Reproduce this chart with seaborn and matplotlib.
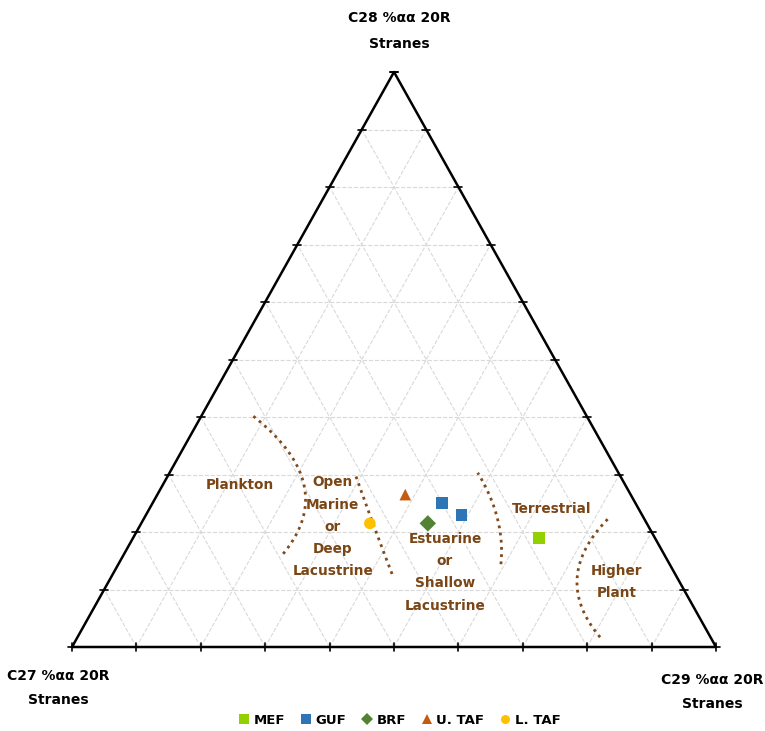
"""
Ternary diagram of C27-C28-C29 regular steranes with environment fields.
"""

import matplotlib.pyplot as plt
import numpy as np
import pandas as pd
import seaborn as sns

sns.set_theme(style="white")
plt.rcParams["font.family"] = ["Liberation Sans Narrow", "DejaVu Sans"]
plt.rcParams["font.weight"] = "bold"
plt.rcParams["text.color"] = "black"

# sample compositions in percent (C27, C28, C29)
groups = ["MEF", "GUF", "GUF", "BRF", "U. TAF", "L. TAF"]
c27 = [18, 30, 28, 34, 35, 43]
c28 = [19, 25, 23, 21.5, 26.5, 21.5]
c29 = [63, 45, 49, 44.5, 38.5, 35.5]

legend_order = ["MEF", "GUF", "BRF", "U. TAF", "L. TAF"]
palette = {"MEF": "#92D000", "GUF": "#2E75B6", "BRF": "#548235",
           "U. TAF": "#C55A11", "L. TAF": "#FFC000"}
markers = {"MEF": "s", "GUF": "s", "BRF": "D", "U. TAF": "^", "L. TAF": "o"}

# field boundaries (triangle fraction x, y) and labels
boundaries = [
    [(0.270, 0.405), (0.323, 0.372), (0.354, 0.285), (0.329, 0.162)],
    [(0.439, 0.303), (0.467, 0.216), (0.497, 0.127)],
    [(0.630, 0.303), (0.660, 0.226), (0.666, 0.144)],
    [(0.835, 0.226), (0.786, 0.134), (0.820, 0.017)],
]
fields = [
    ("Plankton", 0.261, 0.282),
    ("Open\nMarine\nor\nDeep\nLacustrine", 0.405, 0.209),
    ("Estuarine\nor\nShallow\nLacustrine", 0.579, 0.130),
    ("Terrestrial", 0.745, 0.240),
    ("Higher\nPlant", 0.846, 0.113),
]
brown = "#7F4A1C"


def to_xy(a, b, c):
    t = np.array(a) + np.array(b) + np.array(c)
    b = np.array(b) / t
    c = np.array(c) / t
    return c + 0.5 * b, b


fig = plt.figure(figsize=(7.65, 7.31), dpi=100)
ax = fig.add_axes([72 / 765, 84 / 731, 644 / 765, 575 / 731])
ax.set_xlim(0, 1)
ax.set_ylim(0, 1)
ax.axis("off")

# grid
for k in range(1, 10):
    f = k / 10
    ax.plot([f / 2, 1 - f / 2], [f, f], color="#D9D9D9", ls="--", lw=0.8, zorder=1)
    ax.plot([f, f / 2 + 0.5], [0, 1 - f], color="#D9D9D9", ls="--", lw=0.8, zorder=1)
    ax.plot([f, f / 2], [0, f], color="#D9D9D9", ls="--", lw=0.8, zorder=1)

# triangle and ticks
ax.plot([0, 1, 0.5, 0], [0, 0, 1, 0], color="black", lw=1.8, zorder=2, clip_on=False)
dx, dy = 4 / 644, 4 / 575
for k in range(0, 11):
    f = k / 10
    ax.plot([f, f], [-dy, dy], color="black", lw=1.2, zorder=2, clip_on=False)
    ax.plot([f / 2 - dx, f / 2 + dx], [f, f], color="black", lw=1.2, zorder=2, clip_on=False)
    ax.plot([1 - f / 2 - dx, 1 - f / 2 + dx], [f, f], color="black", lw=1.2, zorder=2, clip_on=False)

# field boundaries
for pts in boundaries:
    px, py = np.array(pts).T
    coef = np.polyfit(py, px, 2)
    yy = np.linspace(py.min(), py.max(), 100)
    ax.plot(np.polyval(coef, yy), yy, color=brown, ls=(0, (1, 1.6)), lw=2.0, zorder=2)

for label, x, y in fields:
    ax.text(x, y, label, color="#7A4616", fontsize=9.8, fontweight="bold",
            ha="center", va="center", linespacing=1.75)

# samples
x, y = to_xy(c27, c28, c29)
df = pd.DataFrame({"group": groups, "x": x, "y": y})
sns.scatterplot(data=df, x="x", y="y", hue="group", style="group", hue_order=legend_order,
                style_order=legend_order, palette=palette, markers=markers, s=70,
                linewidth=0, ax=ax, zorder=3, legend=True)

handles, labels = ax.get_legend_handles_labels()
ax.get_legend().remove()
for h in handles:
    h.set_markersize(6.5)
fig.legend(handles, labels, loc="center", bbox_to_anchor=(397 / 765, 11 / 731), ncol=5,
           frameon=False, handletextpad=-0.1, columnspacing=0.8, handlelength=1.6,
           prop={"weight": "bold", "size": 9.5})

# vertex labels
fig.text(399 / 765, 1 - 31 / 731, "C28 %αα 20R\nStranes", ha="center", va="center",
         fontsize=10, fontweight="bold", linespacing=2.0)
fig.text(58 / 765, 1 - 688 / 731, "C27 %αα 20R\nStranes", ha="center", va="center",
         fontsize=10, fontweight="bold", linespacing=2.0)
fig.text(712 / 765, 1 - 692 / 731, "C29 %αα 20R\nStranes", ha="center", va="center",
         fontsize=10, fontweight="bold", linespacing=2.0)

fig.savefig("out.png", dpi=100)
